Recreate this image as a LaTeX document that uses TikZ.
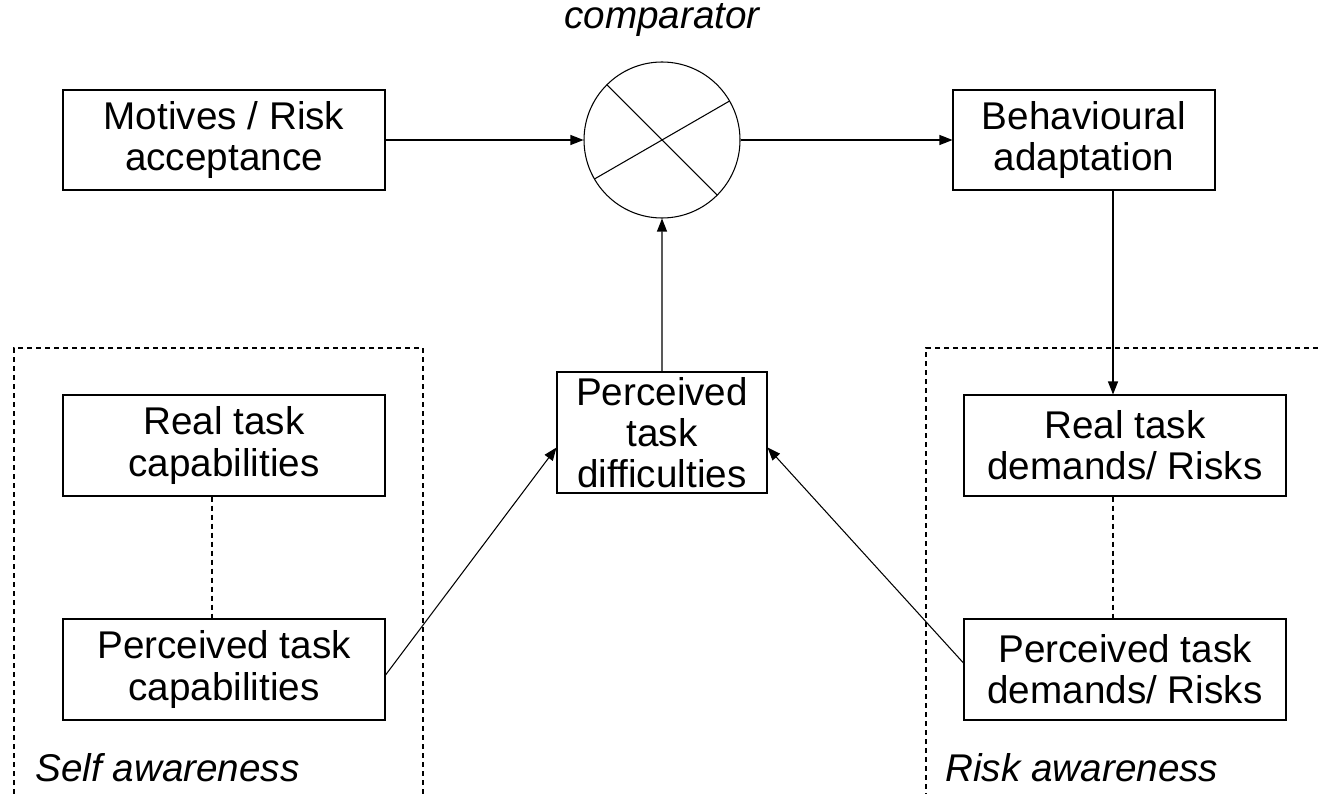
\documentclass[tikz,border=0pt]{standalone}
\usepackage{fontspec}
\setmainfont{Liberation Sans}
\usepackage{tikz}
\usetikzlibrary{arrows.meta}
\newcommand{\widthbox}{6.44cm}
\newcommand{\heightbox}{2.02cm}
\newcommand{\widthmid}{4.2cm}
\tikzset{
    common/.style={draw, rectangle, line width=0.6pt, align=center, inner sep=0pt,
        font=\fontsize{22}{23.5}\selectfont},
    box/.style={common, minimum width=\widthbox, minimum height=\heightbox},
    midbox/.style={common, minimum width=\widthmid, minimum height=2.42cm},
    cmpop/.style={draw, circle, line width=0.6pt, minimum size=3.12cm,
        path picture={
            \draw[line width=0.6pt]
                (path picture bounding box.center) ++(135:1.56) -- ++(-45:3.12)
                (path picture bounding box.center) ++(210:1.56) -- ++(30:3.12);
        }},
    frame/.style={line width=0.6pt, dash pattern=on 0.1cm off 0.08cm},
    tag/.style={font=\fontsize{22}{23.5}\selectfont\itshape, inner sep=0pt},
    >={Triangle[length=0.26cm, width=0.2cm]}
}
\begin{document}
\begin{tikzpicture}
    \useasboundingbox (0,0) rectangle (26.36,-15.88);

    % top row
    \path
        (4.48,-2.8) node[box, minimum height=2cm] (mot) {Motives / Risk\\acceptance}
        ++(8.76,0) node[cmpop] (cmp) {}
        ++(8.44,0) node[box, minimum width=5.24cm, minimum height=2cm] (beh) {Behavioural\\adaptation};
    \node[tag, anchor=base] (cmplabel) at (13.24,-0.58) {comparator};

    % middle
    \node[midbox] (diff) at (13.24,-8.65) {Perceived\\task\\difficulties};

    % self awareness
    \draw[frame] (0.28,-15.88) -- (0.28,-6.96) -- (8.46,-6.96) -- (8.46,-15.88);
    \path
        (4.48,-8.91) node[box] (rcap) {Real task\\capabilities}
        ++(0,-4.48) node[box] (pcap) {Perceived task\\capabilities};
    \node[tag, anchor=west] (self) at (0.7,-15.36) {Self awareness};

    % risk awareness
    \draw[frame] (26.36,-6.96) -- (18.52,-6.96) -- (18.52,-15.88);
    \path
        (22.5,-8.91) node[box] (rdem) {Real task\\demands/ Risks}
        ++(0,-4.48) node[box] (pdem) {Perceived task\\demands/ Risks};
    \node[tag, anchor=west] (risk) at (18.9,-15.36) {Risk awareness};

    \coordinate (rctop) at ([xshift=-0.24cm]rcap.south);
    \coordinate (rdtop) at ([xshift=-0.24cm]rdem.north);
    \coordinate (rdbot) at ([xshift=-0.24cm]rdem.south);

    % connectors
    \draw[->, line width=0.6pt] (mot) -- (cmp);
    \draw[->, line width=0.6pt] (cmp) -- (beh);
    \draw[->, line width=0.6pt] (diff) -- (cmp);
    \draw[->, line width=0.6pt] (beh.south -| rdtop) -- (rdtop);
    \draw[->, line width=0.6pt] ([yshift=-0.11cm]pcap.east) -- ([yshift=-0.3cm]diff.west);
    \draw[->, line width=0.6pt] ([yshift=0.13cm]pdem.west) -- ([yshift=-0.3cm]diff.east);
    \draw[frame] (rctop) -- (pcap.north -| rctop);
    \draw[frame] (rdbot) -- (pdem.north -| rdbot);
\end{tikzpicture}
\end{document}
